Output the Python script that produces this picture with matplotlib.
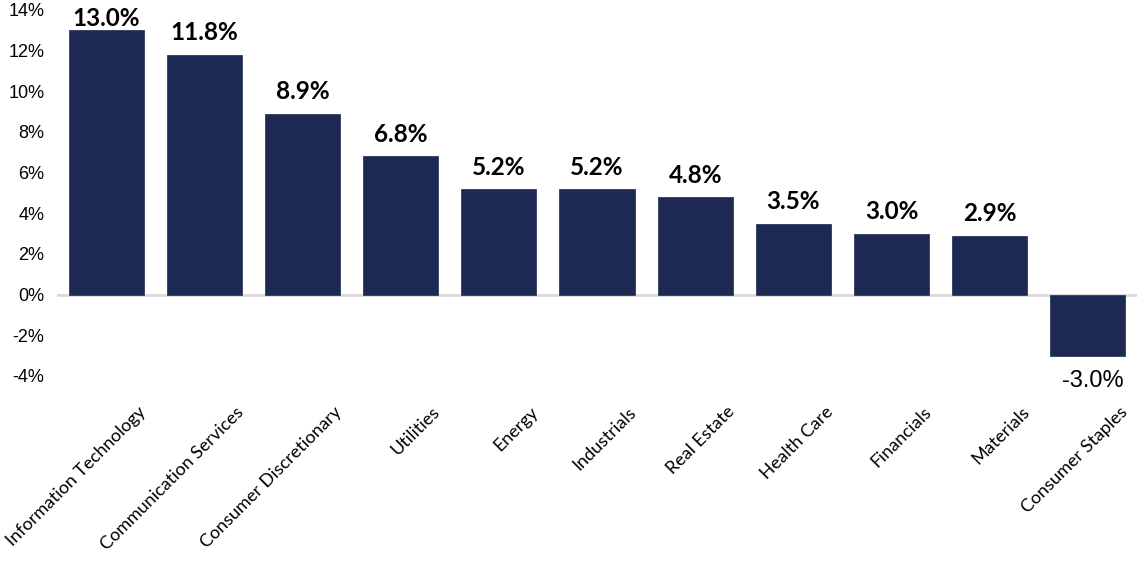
import matplotlib
matplotlib.use("Agg")
import matplotlib.pyplot as plt
import matplotlib.transforms as mtransforms
from matplotlib.ticker import FuncFormatter
import numpy as np

sectors = [
    "Information Technology", "Communication Services", "Consumer Discretionary",
    "Utilities", "Energy", "Industrials", "Real Estate", "Health Care",
    "Financials", "Materials", "Consumer Staples",
]
returns = [13.0, 11.8, 8.9, 6.8, 5.2, 5.2, 4.8, 3.5, 3.0, 2.9, -3.0]
y_ticks = [-4, -2, 0, 2, 4, 6, 8, 10, 12, 14]

bar_color = "#1d2953"

fig = plt.figure(figsize=(11.37, 5.68), dpi=100)
ax = fig.add_axes([57 / 1137, 1 - 376 / 568, 1 - 57 / 1137, (376 - 10) / 568])

x = np.arange(len(sectors))
ax.bar(x, returns, width=0.765, color=bar_color, edgecolor="#2e3a63", linewidth=0.6, zorder=2)
ax.axhline(0, color="#d9d9d9", linewidth=2, zorder=1)

ax.set_xlim(-0.5, len(sectors) - 0.5)
ax.set_ylim(-4, 14)
ax.set_yticks(y_ticks)
ax.yaxis.set_major_formatter(FuncFormatter(lambda v, p: f"{v:.0f}%"))
for s in ax.spines.values():
    s.set_visible(False)
ax.tick_params(axis="y", length=0, pad=9, labelsize=13)
for lab in ax.get_yticklabels():
    lab.set_fontfamily("Liberation Sans")

# category labels, rotated, shifted right like the original
ax.set_xticks(x)
ax.set_xticklabels(sectors, rotation=45, ha="right", va="center",
                   rotation_mode="anchor", fontfamily="Lato", fontsize=13)
ax.tick_params(axis="x", length=0, pad=24)
shift = mtransforms.ScaledTranslation(0.37, 0, fig.dpi_scale_trans)
for lab in ax.get_xticklabels():
    lab.set_transform(lab.get_transform() + shift)

# value labels
for xi, v in zip(x, returns):
    if v >= 0:
        ax.text(xi, min(v + 0.7, 13.2), f"{v:.1f}%", ha="center", va="baseline",
                fontfamily="Lato", fontweight="bold", fontsize=17.5, color="black")
    else:
        ax.text(xi + 0.05, v - 1.55, f"{v:.1f}%", ha="center", va="baseline",
                fontfamily="Liberation Sans", fontsize=17, color="black")

fig.savefig("out.png", dpi=100)
